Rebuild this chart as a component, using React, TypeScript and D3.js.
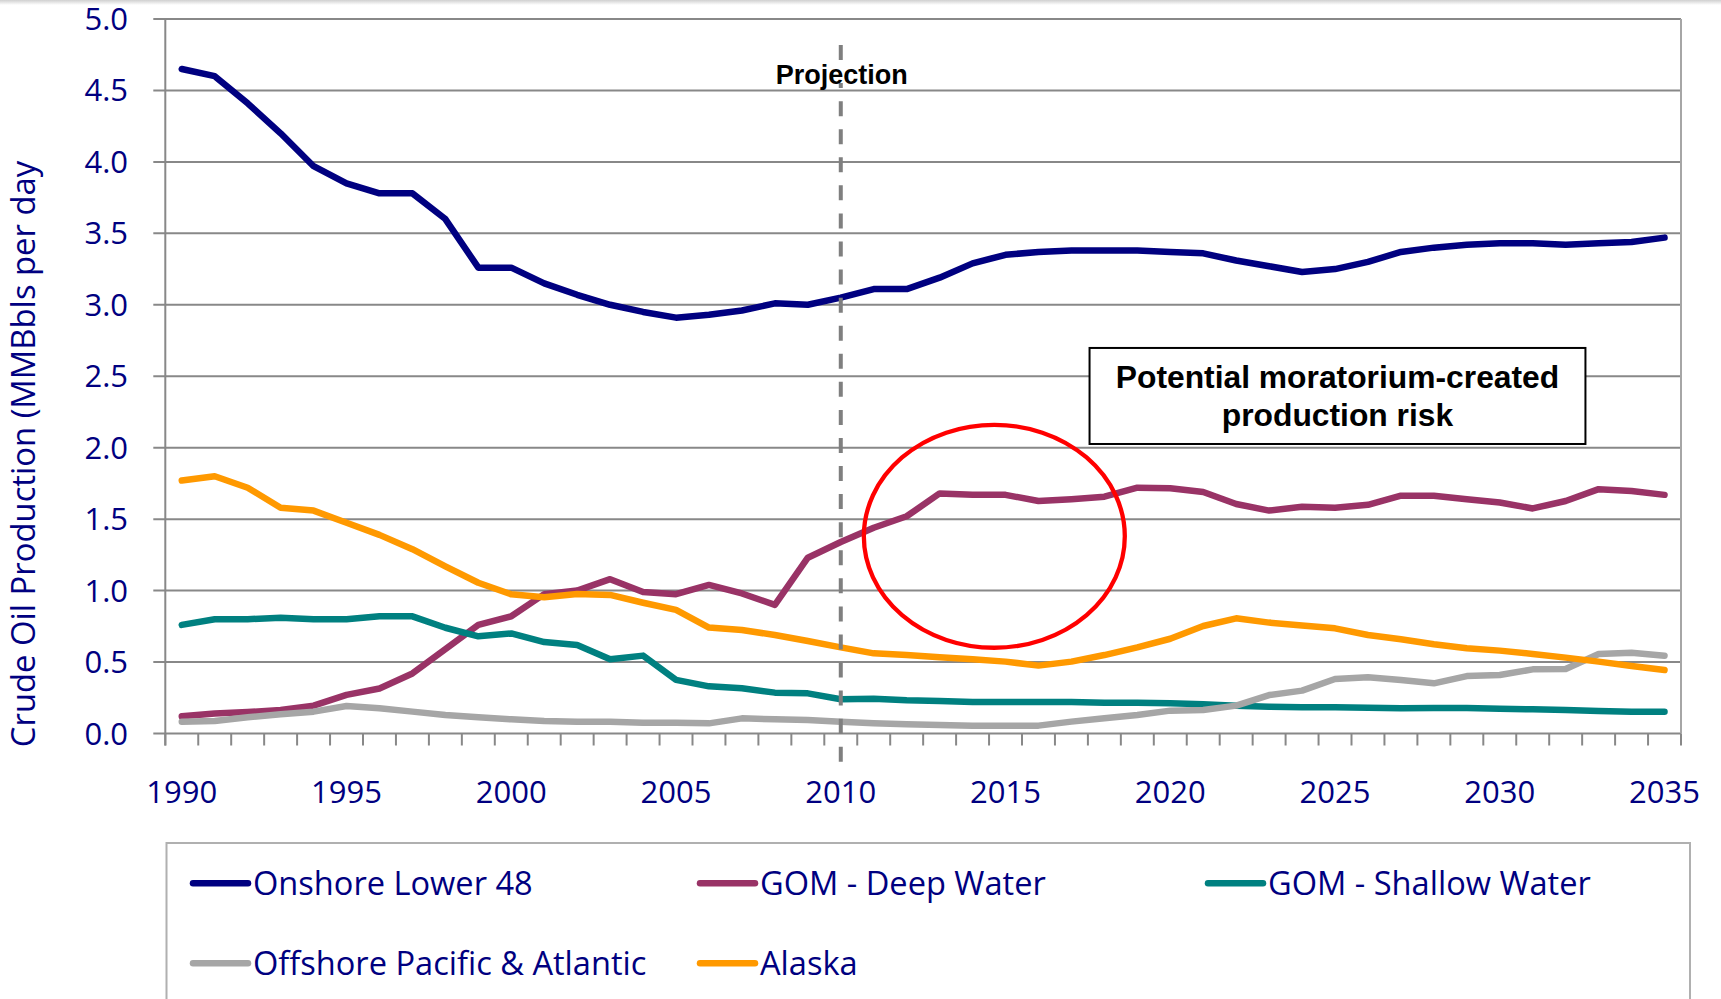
import React from "react";
import * as d3 from "d3";

const years = [1990, 1991, 1992, 1993, 1994, 1995, 1996, 1997, 1998, 1999, 2000, 2001, 2002, 2003, 2004, 2005, 2006, 2007, 2008, 2009, 2010, 2011, 2012, 2013, 2014, 2015, 2016, 2017, 2018, 2019, 2020, 2021, 2022, 2023, 2024, 2025, 2026, 2027, 2028, 2029, 2030, 2031, 2032, 2033, 2034, 2035];

const onshoreLower48 = [4.65, 4.6, 4.41, 4.2, 3.97, 3.85, 3.78, 3.78, 3.6, 3.26, 3.26, 3.15, 3.07, 3.0, 2.95, 2.91, 2.93, 2.96, 3.01, 3.0, 3.05, 3.11, 3.11, 3.19, 3.29, 3.35, 3.37, 3.38, 3.38, 3.38, 3.37, 3.36, 3.31, 3.27, 3.23, 3.25, 3.3, 3.37, 3.4, 3.42, 3.43, 3.43, 3.42, 3.43, 3.44, 3.47];
const gomDeepWater = [0.12, 0.14, 0.15, 0.165, 0.195, 0.27, 0.315, 0.42, 0.59, 0.76, 0.82, 0.975, 1.0, 1.08, 0.99, 0.975, 1.04, 0.98, 0.9, 1.23, 1.34, 1.44, 1.52, 1.68, 1.67, 1.67, 1.627, 1.64, 1.657, 1.72, 1.716, 1.69, 1.606, 1.56, 1.587, 1.58, 1.6, 1.664, 1.664, 1.64, 1.617, 1.575, 1.627, 1.71, 1.697, 1.67];
const gomShallowWater = [0.76, 0.8, 0.8, 0.81, 0.8, 0.8, 0.82, 0.82, 0.74, 0.68, 0.7, 0.64, 0.62, 0.52, 0.545, 0.375, 0.33, 0.316, 0.286, 0.281, 0.24, 0.244, 0.232, 0.227, 0.22, 0.22, 0.22, 0.22, 0.216, 0.216, 0.211, 0.204, 0.195, 0.188, 0.183, 0.183, 0.181, 0.176, 0.178, 0.178, 0.174, 0.169, 0.164, 0.157, 0.153, 0.153];
const offshorePacAtl = [0.083, 0.088, 0.113, 0.134, 0.153, 0.192, 0.176, 0.153, 0.13, 0.113, 0.099, 0.088, 0.083, 0.083, 0.076, 0.076, 0.071, 0.106, 0.099, 0.094, 0.083, 0.071, 0.064, 0.059, 0.055, 0.055, 0.055, 0.083, 0.106, 0.13, 0.16, 0.164, 0.195, 0.269, 0.3, 0.381, 0.393, 0.374, 0.351, 0.402, 0.409, 0.449, 0.451, 0.556, 0.565, 0.544];
const alaska = [1.77, 1.8, 1.72, 1.58, 1.56, 1.475, 1.39, 1.29, 1.17, 1.055, 0.974, 0.953, 0.976, 0.97, 0.915, 0.865, 0.741, 0.724, 0.689, 0.647, 0.603, 0.561, 0.549, 0.533, 0.519, 0.503, 0.475, 0.503, 0.549, 0.603, 0.663, 0.752, 0.806, 0.776, 0.755, 0.736, 0.689, 0.659, 0.624, 0.596, 0.58, 0.557, 0.531, 0.503, 0.472, 0.444];

const seriesNames = ["Onshore Lower 48", "GOM - Deep Water", "GOM - Shallow Water", "Offshore Pacific & Atlantic", "Alaska"];
const seriesColors = ["#000080", "#993366", "#008080", "#A6A6A6", "#FF9900"];
const seriesValues = [onshoreLower48, gomDeepWater, gomShallowWater, offshorePacAtl, alaska];

const yTicks = [0, 0.5, 1, 1.5, 2, 2.5, 3, 3.5, 4, 4.5, 5];
const xTickLabels = [1990, 1995, 2000, 2005, 2010, 2015, 2020, 2025, 2030, 2035];

const yAxisTitle = "Crude Oil Production (MMBbls per day";
const projectionLabel = "Projection";
const projectionYear = 2010;
const riskText = ["Potential moratorium-created", "production risk"];

const W = 1721;
const H = 999;
const PLOT = { left: 165.3, right: 1681, top: 19, bottom: 733.5 };

const tickFont = "'Open Sans', sans-serif";
const NAVY = "#000080";

export default function App() {
  const x = d3.scaleLinear().domain([years[0] - 0.5, years[years.length - 1] + 0.5]).range([PLOT.left, PLOT.right]);
  const y = d3.scaleLinear().domain([0, 5]).range([PLOT.bottom, PLOT.top]);
  const line = d3
    .line<number>()
    .x((_, i) => x(years[i]))
    .y((d) => y(d));

  const boundaries = d3.range(years.length + 1).map((k) => years[0] - 0.5 + k);

  const px = x(projectionYear);

  // annotation geometry (data units)
  const ell = { cx: x(2014.66), cy: y(1.38), rx: x(3.96) - x(0), ry: y(0) - y(0.78) };
  const box = { x0: x(2017.55), x1: x(2032.6), y0: y(2.698), y1: y(2.026) };

  const legendCols = [193, 700, 1208];
  const legendRows = [883.3, 963.3];
  const legendItems = seriesNames.map((name, i) => ({
    name,
    color: seriesColors[i],
    lx: legendCols[i % 3],
    ly: legendRows[Math.floor(i / 3)],
  }));

  return (
    <svg
      width={W}
      height={H}
      style={{ position: "absolute", left: 0, top: 0, display: "block", background: "#fff" }}
    >
      <defs>
        <linearGradient id="topShade" x1="0" x2="0" y1="0" y2="1">
          <stop offset="0" stopColor="#d0d0d0" />
          <stop offset="1" stopColor="#ffffff" />
        </linearGradient>
      </defs>
      <rect x={0} y={0} width={W} height={H} fill="#fff" />
      <rect x={0} y={0} width={W} height={5} fill="url(#topShade)" />

      {/* gridlines */}
      {yTicks.map((t) => (
        <line key={"g" + t} x1={PLOT.left - 12} x2={PLOT.right} y1={y(t)} y2={y(t)} stroke="#888888" strokeWidth={2} />
      ))}
      {/* right border */}
      <line x1={PLOT.right} x2={PLOT.right} y1={PLOT.top} y2={PLOT.bottom} stroke="#a6a6a6" strokeWidth={2} />
      {/* left axis */}
      <line x1={PLOT.left} x2={PLOT.left} y1={PLOT.top} y2={PLOT.bottom + 12} stroke="#888888" strokeWidth={2} />
      {/* x ticks */}
      {boundaries.map((b) => (
        <line key={"t" + b} x1={x(b)} x2={x(b)} y1={PLOT.bottom} y2={PLOT.bottom + 12} stroke="#888888" strokeWidth={2} />
      ))}

      {/* y tick labels */}
      {yTicks.map((t) => (
        <text key={"yl" + t} x={128} y={y(t) + 11} textAnchor="end" fontFamily={tickFont} fontSize={31} fill={NAVY}>
          {t.toFixed(1)}
        </text>
      ))}
      {/* x tick labels */}
      {xTickLabels.map((yr) => (
        <text key={"xl" + yr} x={x(yr)} y={803} textAnchor="middle" fontFamily={tickFont} fontSize={31} fill={NAVY}>
          {yr}
        </text>
      ))}

      {/* y axis title */}
      <text
        transform={`translate(35, 454) rotate(-90)`}
        textAnchor="middle"
        fontFamily={tickFont}
        fontSize={32.8}
        fill={NAVY}
      >
        {yAxisTitle}
      </text>

      {/* series */}
      {seriesValues.map((vals, i) => (
        <path
          key={"s" + i}
          d={line(vals) || ""}
          fill="none"
          stroke={seriesColors[i]}
          strokeWidth={6.5}
          strokeLinejoin="round"
          strokeLinecap="round"
        />
      ))}

      {/* projection dashed line */}
      <line x1={px} x2={px} y1={45} y2={762} stroke="#7f7f7f" strokeWidth={4} strokeDasharray="15 13.07" />
      <rect x={px - 70} y={62} width={140} height={21} fill="#fff" />
      <text x={px + 1} y={84} textAnchor="middle" fontFamily="'Liberation Sans', Arial, sans-serif" fontWeight="bold" fontSize={27} fill="#000">
        {projectionLabel}
      </text>

      {/* red ellipse */}
      <ellipse cx={ell.cx} cy={ell.cy} rx={ell.rx} ry={ell.ry} fill="none" stroke="#ff0000" strokeWidth={4.3} />

      {/* annotation box */}
      <rect x={box.x0} y={box.y0} width={box.x1 - box.x0} height={box.y1 - box.y0} fill="#fff" stroke="#000" strokeWidth={2} />
      {riskText.map((t, i) => (
        <text
          key={"r" + i}
          x={(box.x0 + box.x1) / 2}
          y={388 + i * 37.5}
          textAnchor="middle"
          fontFamily="'Liberation Sans', Arial, sans-serif"
          fontWeight="bold"
          fontSize={31.8}
          fill="#000"
        >
          {t}
        </text>
      ))}

      {/* legend */}
      <rect x={166.5} y={843} width={1690 - 166.5} height={200} fill="#fff" stroke="#b0b0b0" strokeWidth={2} />
      {legendItems.map((it) => (
        <g key={it.name}>
          <line x1={it.lx} x2={it.lx + 55} y1={it.ly} y2={it.ly} stroke={it.color} strokeWidth={6.5} strokeLinecap="round" />
          <text x={it.lx + 60} y={it.ly + 11.5} fontFamily={tickFont} fontSize={32.6} fill={NAVY}>
            {it.name}
          </text>
        </g>
      ))}
    </svg>
  );
}
